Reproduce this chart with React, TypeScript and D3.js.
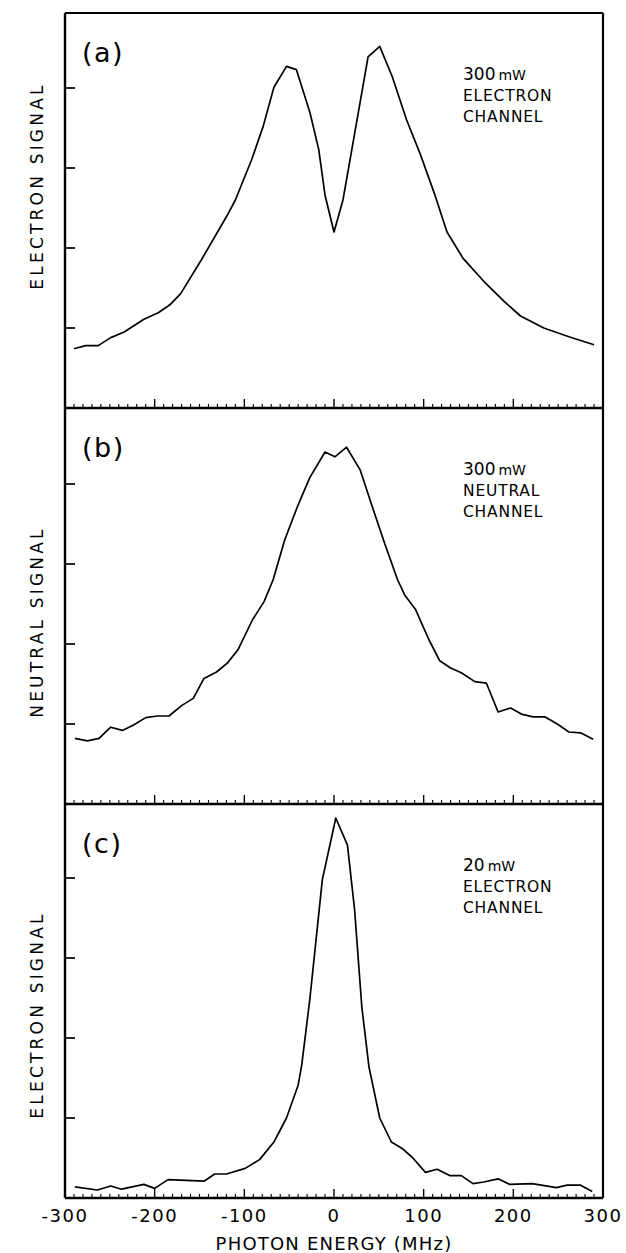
import React from "react";
import * as d3 from "d3";

// ---------- data (MHz, signal in tick units) ----------
const panelA: [number, number][] = [
  [-290, 0.74], [-277, 0.78], [-263, 0.78], [-249, 0.88], [-234, 0.95], [-212, 1.11],
  [-196, 1.19], [-183, 1.29], [-171, 1.43], [-148, 1.85], [-120, 2.39], [-110, 2.6],
  [-92, 3.1], [-79, 3.52], [-67, 4.01], [-53, 4.27], [-42, 4.23], [-27, 3.7],
  [-17, 3.23], [-10, 2.66], [0, 2.2], [10, 2.6], [23, 3.43], [38, 4.39], [51, 4.52],
  [65, 4.14], [81, 3.6], [96, 3.18], [112, 2.68], [126, 2.2], [144, 1.87], [169, 1.56],
  [190, 1.33], [208, 1.15], [234, 1.0], [262, 0.89], [290, 0.79],
];

const panelB: [number, number][] = [
  [-289, 0.82], [-275, 0.79], [-262, 0.82], [-249, 0.96], [-236, 0.92], [-223, 0.99],
  [-210, 1.08], [-197, 1.1], [-184, 1.1], [-170, 1.23], [-157, 1.32], [-145, 1.57],
  [-131, 1.65], [-119, 1.76], [-107, 1.93], [-91, 2.3], [-78, 2.53], [-68, 2.8],
  [-55, 3.3], [-40, 3.74], [-27, 4.08], [-10, 4.4], [1, 4.34], [14, 4.46], [29, 4.18],
  [42, 3.74], [57, 3.24], [71, 2.8], [79, 2.61], [91, 2.43], [106, 2.05], [118, 1.79],
  [130, 1.7], [142, 1.64], [157, 1.53], [170, 1.51], [183, 1.15], [197, 1.2], [210, 1.12],
  [222, 1.09], [235, 1.09], [249, 1.0], [262, 0.9], [275, 0.89], [289, 0.81],
];

const panelC: [number, number][] = [
  [-289, 0.14], [-264, 0.1], [-249, 0.15], [-237, 0.11], [-212, 0.17], [-200, 0.12],
  [-185, 0.23], [-145, 0.21], [-133, 0.3], [-120, 0.3], [-99, 0.37], [-83, 0.48],
  [-67, 0.7], [-53, 1.0], [-40, 1.41], [-36, 1.66], [-27, 2.48], [-13, 3.98], [2, 4.75],
  [15, 4.41], [23, 3.6], [31, 2.39], [39, 1.64], [51, 1.0], [64, 0.7], [76, 0.62],
  [88, 0.5], [102, 0.32], [115, 0.36], [129, 0.28], [142, 0.28], [155, 0.18], [167, 0.2],
  [183, 0.24], [196, 0.17], [221, 0.18], [248, 0.13], [260, 0.16], [275, 0.16], [288, 0.08],
];

const panelTags = ["(a)", "(b)", "(c)"];
const powers = ["300", "300", "20"];
const channels = [["ELECTRON", "CHANNEL"], ["NEUTRAL", "CHANNEL"], ["ELECTRON", "CHANNEL"]];
const yTitles = ["ELECTRON SIGNAL", "NEUTRAL SIGNAL", "ELECTRON SIGNAL"];
const yTickValues = [1, 2, 3, 4];
const xMajorTicks = [-300, -200, -100, 0, 100, 200, 300];
const xTitle = "PHOTON ENERGY (MHz)";

const series = [panelA, panelB, panelC];

// ---------- layout ----------
const W = 626;
const H = 1253;
const left = 65;
const right = 603;
const tops = [13, 408, 804];
const bottoms = [408, 804, 1198];
const unitPx = 80;
const titleCenters = [186, 622, 1015];
const font = "'DejaVu Sans', sans-serif";

export default function App() {
  const x = d3.scaleLinear().domain([-300, 300]).range([left, right]);
  const minorTicks = d3.range(-290, 300, 10).filter((v) => v % 100 !== 0);

  return (
    <svg
      width={W}
      height={H}
      style={{ position: "absolute", left: 0, top: 0, background: "#fff" }}
      fontFamily={font}
    >
      <rect x={0} y={0} width={W} height={H} fill="#fff" />
      {series.map((data, i) => {
        const top = tops[i];
        const bottom = bottoms[i];
        const y = d3
          .scaleLinear()
          .domain([0, (bottom - top) / unitPx])
          .range([bottom, top]);
        const line = d3
          .line<[number, number]>()
          .x((d) => x(d[0]))
          .y((d) => y(d[1]));
        return (
          <g key={i}>
            {/* frame */}
            <line x1={left} x2={right} y1={top} y2={top} stroke="#000" strokeWidth={2} />
            <line x1={left} x2={right} y1={bottom} y2={bottom} stroke="#000" strokeWidth={2.4} />
            <line x1={left} x2={left} y1={top} y2={bottom} stroke="#000" strokeWidth={2.4} />
            <line x1={right} x2={right} y1={top} y2={bottom} stroke="#000" strokeWidth={2.2} />
            {/* y ticks */}
            {yTickValues.map((v) => (
              <line key={v} x1={left} x2={left + 10} y1={y(v)} y2={y(v)} stroke="#000" strokeWidth={1.7} />
            ))}
            {/* x ticks */}
            {xMajorTicks.slice(1, -1).map((v) => (
              <line key={"M" + v} x1={x(v)} x2={x(v)} y1={bottom} y2={bottom - 9} stroke="#000" strokeWidth={1.4} />
            ))}
            {minorTicks.map((v) => (
              <line key={"m" + v} x1={x(v)} x2={x(v)} y1={bottom} y2={bottom - 4} stroke="#000" strokeWidth={1.1} />
            ))}
            {/* curve */}
            <path d={line(data) || ""} fill="none" stroke="#000" strokeWidth={1.7} strokeLinejoin="round" />
            {/* panel tag */}
            <text x={82} y={top + 49} fontSize={27} fill="#000" letterSpacing={1.5}>
              {panelTags[i]}
            </text>
            {/* legend */}
            <text x={463} y={top + 67} fontSize={17} fill="#000">
              {powers[i]}
              <tspan fontSize={14} dx={3}>mW</tspan>
            </text>
            <text x={463} y={top + 88} fontSize={15.5} fill="#000" letterSpacing={0.8}>
              {channels[i][0]}
            </text>
            <text x={463} y={top + 109} fontSize={15.5} fill="#000" letterSpacing={0.8}>
              {channels[i][1]}
            </text>
            {/* y title */}
            <text
              transform={`translate(43, ${titleCenters[i]}) rotate(-90)`}
              textAnchor="middle"
              fontSize={17}
              letterSpacing={3.2}
              fill="#000"
            >
              {yTitles[i]}
            </text>
          </g>
        );
      })}
      {/* x tick labels */}
      {xMajorTicks.map((v) => (
        <text key={v} x={x(v)} y={1222} textAnchor="middle" fontSize={18} letterSpacing={1.5} fill="#000">
          {String(v)}
        </text>
      ))}
      <text x={334} y={1250} textAnchor="middle" fontSize={18} letterSpacing={1.2} fill="#000">
        {xTitle}
      </text>
    </svg>
  );
}
